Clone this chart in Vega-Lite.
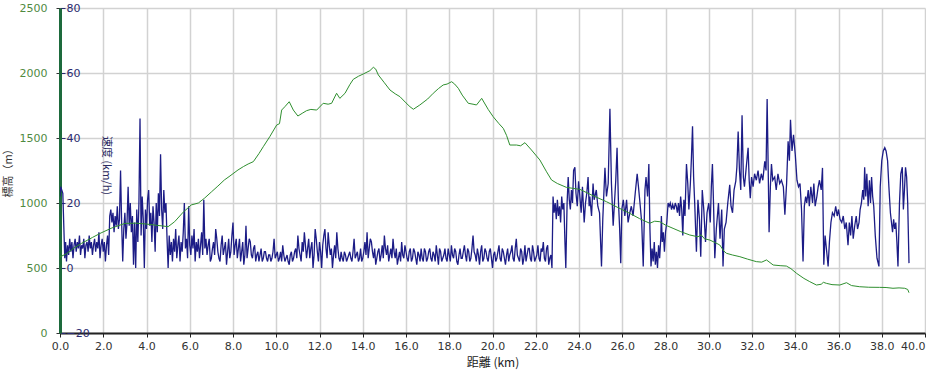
{
  "$schema": "https://vega.github.io/schema/vega-lite/v6.json",
  "autosize": {"type": "none"},
  "padding": {"left": 60, "top": 8, "right": 1, "bottom": 41},
  "width": 865,
  "height": 325,
  "background": "white",
  "config": {
    "view": {"stroke": null},
    "axis": {"labelFont": "DejaVu Sans", "labelFontSize": 11, "titleFont": "Noto Sans CJK JP", "titleFontSize": 11, "titleFontWeight": "normal", "gridColor": "#d2d2d2", "gridWidth": 1.5}
  },
  "datasets": {
    "spd": [
      {"d":0.00,"s":22},{"d":0.03,"s":25},{"d":0.08,"s":24},{"d":0.13,"s":23},{"d":0.18,"s":12},{"d":0.22,"s":3},{"d":0.26,"s":8},{"d":0.30,"s":2},{"d":0.35,"s":7},{"d":0.40,"s":4},
      {"d":0.45,"s":9},{"d":0.50,"s":5},{"d":0.55,"s":8},{"d":0.60,"s":3},{"d":0.65,"s":7},{"d":0.70,"s":9},{"d":0.75,"s":5},{"d":0.80,"s":8},{"d":0.85,"s":6},{"d":0.90,"s":10},
      {"d":0.95,"s":4},{"d":1.00,"s":7},{"d":1.05,"s":6},{"d":1.10,"s":9},{"d":1.15,"s":3},{"d":1.20,"s":7},{"d":1.25,"s":8},{"d":1.30,"s":5},{"d":1.35,"s":10},{"d":1.40,"s":6},
      {"d":1.45,"s":8},{"d":1.50,"s":4},{"d":1.55,"s":7},{"d":1.60,"s":9},{"d":1.65,"s":5},{"d":1.70,"s":8},{"d":1.75,"s":6},{"d":1.80,"s":11},{"d":1.85,"s":3},{"d":1.90,"s":7},
      {"d":1.95,"s":9},{"d":2.00,"s":5},{"d":2.05,"s":8},{"d":2.10,"s":2},{"d":2.15,"s":7},{"d":2.20,"s":10},{"d":2.25,"s":4},{"d":2.30,"s":16},{"d":2.35,"s":18},{"d":2.40,"s":14},
      {"d":2.45,"s":17},{"d":2.50,"s":11},{"d":2.55,"s":16},{"d":2.60,"s":13},{"d":2.65,"s":19},{"d":2.70,"s":12},{"d":2.75,"s":15},{"d":2.80,"s":30},{"d":2.85,"s":14},{"d":2.90,"s":2},
      {"d":2.95,"s":12},{"d":3.00,"s":17},{"d":3.05,"s":9},{"d":3.10,"s":14},{"d":3.15,"s":25},{"d":3.20,"s":13},{"d":3.25,"s":20},{"d":3.30,"s":11},{"d":3.35,"s":16},{"d":3.40,"s":1},
      {"d":3.45,"s":14},{"d":3.50,"s":0},{"d":3.55,"s":18},{"d":3.60,"s":8},{"d":3.65,"s":20},{"d":3.70,"s":46},{"d":3.75,"s":10},{"d":3.80,"s":22},{"d":3.85,"s":15},{"d":3.90,"s":0},
      {"d":3.95,"s":18},{"d":4.00,"s":12},{"d":4.05,"s":21},{"d":4.10,"s":24},{"d":4.15,"s":13},{"d":4.20,"s":17},{"d":4.25,"s":8},{"d":4.30,"s":19},{"d":4.35,"s":14},{"d":4.40,"s":5},
      {"d":4.45,"s":20},{"d":4.50,"s":11},{"d":4.55,"s":23},{"d":4.60,"s":16},{"d":4.65,"s":35},{"d":4.70,"s":18},{"d":4.75,"s":12},{"d":4.80,"s":24},{"d":4.85,"s":17},{"d":4.90,"s":20},
      {"d":4.95,"s":9},{"d":5.00,"s":0},{"d":5.05,"s":10},{"d":5.10,"s":4},{"d":5.15,"s":8},{"d":5.20,"s":2},{"d":5.25,"s":9},{"d":5.30,"s":5},{"d":5.35,"s":12},{"d":5.40,"s":3},
      {"d":5.45,"s":7},{"d":5.50,"s":10},{"d":5.55,"s":2},{"d":5.60,"s":8},{"d":5.65,"s":5},{"d":5.70,"s":11},{"d":5.75,"s":20},{"d":5.80,"s":6},{"d":5.85,"s":9},{"d":5.90,"s":3},
      {"d":5.95,"s":19},{"d":6.00,"s":7},{"d":6.05,"s":4},{"d":6.10,"s":10},{"d":6.15,"s":6},{"d":6.20,"s":12},{"d":6.25,"s":2},{"d":6.30,"s":8},{"d":6.35,"s":5},{"d":6.40,"s":9},
      {"d":6.45,"s":3},{"d":6.50,"s":7},{"d":6.55,"s":11},{"d":6.60,"s":4},{"d":6.65,"s":21},{"d":6.70,"s":6},{"d":6.75,"s":9},
      {"d":6.8,"s":4},{"d":6.9,"s":9},{"d":7.0,"s":3},{"d":7.1,"s":8},{"d":7.2,"s":12},{"d":7.3,"s":5},{"d":7.4,"s":2},{"d":7.5,"s":10},{"d":7.6,"s":6},{"d":7.7,"s":1},
      {"d":7.8,"s":9},{"d":7.9,"s":5},{"d":8.0,"s":14},{"d":8.1,"s":7},{"d":8.2,"s":3},{"d":8.3,"s":9},{"d":8.4,"s":5},{"d":8.5,"s":1},{"d":8.6,"s":13},{"d":8.7,"s":6},
      {"d":8.8,"s":8},{"d":8.9,"s":3},{"d":9.0,"s":7},{"d":9.1,"s":4},{"d":9.2,"s":2},{"d":9.3,"s":6},{"d":9.4,"s":3},{"d":9.5,"s":5},{"d":9.6,"s":2},{"d":9.7,"s":4},
      {"d":9.8,"s":3},{"d":9.9,"s":9},{"d":10.0,"s":4},{"d":10.1,"s":2},{"d":10.2,"s":5},{"d":10.3,"s":7},{"d":10.4,"s":2},{"d":10.5,"s":4},{"d":10.6,"s":1},{"d":10.7,"s":5},
      {"d":10.8,"s":3},{"d":10.9,"s":6},{"d":11.0,"s":10},{"d":11.1,"s":4},{"d":11.2,"s":8},{"d":11.3,"s":11},{"d":11.4,"s":3},{"d":11.5,"s":9},{"d":11.6,"s":6},{"d":11.7,"s":0},
      {"d":11.8,"s":12},{"d":11.9,"s":5},{"d":12.0,"s":8},{"d":12.1,"s":0},{"d":12.2,"s":10},{"d":12.25,"s":12},{"d":12.3,"s":6},{"d":12.4,"s":11},{"d":12.5,"s":4},{"d":12.6,"s":0},
      {"d":12.7,"s":7},{"d":12.8,"s":11},{"d":12.9,"s":3},{"d":13.0,"s":5},{"d":13.1,"s":2},{"d":13.2,"s":4},{"d":13.3,"s":3},{"d":13.4,"s":5},{"d":13.5,"s":2},{"d":13.6,"s":9},
      {"d":13.7,"s":4},{"d":13.8,"s":2},{"d":13.9,"s":6},{"d":14.0,"s":3},{"d":14.1,"s":8},{"d":14.2,"s":11},{"d":14.3,"s":6},{"d":14.4,"s":8},{"d":14.5,"s":3},{"d":14.6,"s":1},
      {"d":14.7,"s":5},{"d":14.8,"s":2},{"d":14.9,"s":7},{"d":15.0,"s":10},{"d":15.1,"s":4},{"d":15.2,"s":2},{"d":15.3,"s":6},{"d":15.4,"s":9},{"d":15.5,"s":3},{"d":15.6,"s":1},
      {"d":15.7,"s":5},{"d":15.8,"s":8},{"d":15.9,"s":3},{"d":16.0,"s":5},{"d":16.1,"s":2},{"d":16.2,"s":6},{"d":16.3,"s":3},{"d":16.4,"s":5},{"d":16.5,"s":1},{"d":16.6,"s":4},
      {"d":16.7,"s":6},{"d":16.8,"s":2},{"d":16.9,"s":5},{"d":17.0,"s":3},{"d":17.1,"s":6},{"d":17.2,"s":2},{"d":17.3,"s":4},{"d":17.4,"s":7},{"d":17.5,"s":1},{"d":17.6,"s":5},
      {"d":17.7,"s":3},{"d":17.8,"s":6},{"d":17.9,"s":2},{"d":18.0,"s":4},{"d":18.1,"s":7},{"d":18.2,"s":3},{"d":18.3,"s":5},{"d":18.4,"s":1},{"d":18.5,"s":6},{"d":18.6,"s":3},
      {"d":18.7,"s":7},{"d":18.8,"s":2},{"d":18.9,"s":5},{"d":19.0,"s":3},{"d":19.1,"s":10},{"d":19.2,"s":4},{"d":19.3,"s":6},{"d":19.4,"s":1},{"d":19.5,"s":7},{"d":19.6,"s":3},
      {"d":19.7,"s":5},{"d":19.8,"s":2},{"d":19.9,"s":6},{"d":20.0,"s":0},{"d":20.1,"s":5},{"d":20.2,"s":3},{"d":20.3,"s":7},{"d":20.4,"s":2},{"d":20.5,"s":5},{"d":20.6,"s":1},
      {"d":20.7,"s":6},{"d":20.8,"s":4},{"d":20.9,"s":7},{"d":21.0,"s":2},{"d":21.1,"s":9},{"d":21.2,"s":3},{"d":21.3,"s":6},{"d":21.4,"s":1},{"d":21.5,"s":7},{"d":21.6,"s":4},
      {"d":21.7,"s":6},{"d":21.8,"s":2},{"d":21.9,"s":5},{"d":22.0,"s":3},{"d":22.1,"s":7},{"d":22.2,"s":2},{"d":22.3,"s":5},{"d":22.35,"s":8},{"d":22.4,"s":3},{"d":22.5,"s":6},
      {"d":22.6,"s":1},{"d":22.7,"s":4},
      {"d":6.85,"s":7},{"d":6.95,"s":2},{"d":7.05,"s":6},{"d":7.15,"s":4},{"d":7.25,"s":9},{"d":7.35,"s":3},{"d":7.45,"s":7},{"d":7.55,"s":4},{"d":7.65,"s":8},{"d":7.75,"s":5},
      {"d":7.85,"s":3},{"d":7.95,"s":10},{"d":8.05,"s":4},{"d":8.15,"s":9},{"d":8.25,"s":6},{"d":8.35,"s":2},{"d":8.45,"s":8},{"d":8.55,"s":4},{"d":8.65,"s":3},{"d":8.75,"s":9},
      {"d":8.85,"s":4},{"d":8.95,"s":6},{"d":9.05,"s":2},{"d":9.15,"s":5},{"d":9.25,"s":4},{"d":9.35,"s":2},{"d":9.45,"s":5},{"d":9.55,"s":3},{"d":9.65,"s":4},{"d":9.75,"s":2},
      {"d":9.85,"s":5},{"d":9.95,"s":3},{"d":10.05,"s":5},{"d":10.15,"s":3},{"d":10.25,"s":2},{"d":10.35,"s":4},{"d":10.45,"s":3},{"d":10.55,"s":2},{"d":10.65,"s":4},{"d":10.75,"s":2},
      {"d":10.85,"s":5},{"d":10.95,"s":3},{"d":11.05,"s":6},{"d":11.15,"s":2},{"d":11.25,"s":5},{"d":11.35,"s":7},{"d":11.45,"s":6},{"d":11.55,"s":3},{"d":11.65,"s":8},{"d":11.75,"s":4},
      {"d":11.85,"s":9},{"d":11.95,"s":2},{"d":12.05,"s":5},{"d":12.15,"s":7},{"d":12.35,"s":3},{"d":12.45,"s":7},{"d":12.55,"s":6},{"d":12.65,"s":4},{"d":12.75,"s":3},{"d":12.85,"s":6},
      {"d":12.95,"s":2},{"d":13.05,"s":3},{"d":13.15,"s":5},{"d":13.25,"s":2},{"d":13.35,"s":4},{"d":13.45,"s":3},{"d":13.55,"s":5},{"d":13.65,"s":3},{"d":13.75,"s":5},{"d":13.85,"s":3},
      {"d":13.95,"s":2},{"d":14.05,"s":5},{"d":14.15,"s":4},{"d":14.25,"s":3},{"d":14.35,"s":9},{"d":14.45,"s":5},{"d":14.55,"s":6},{"d":14.65,"s":3},{"d":14.75,"s":6},{"d":14.85,"s":4},
      {"d":14.95,"s":3},{"d":15.05,"s":6},{"d":15.15,"s":7},{"d":15.25,"s":4},{"d":15.35,"s":3},{"d":15.45,"s":5},{"d":15.55,"s":6},{"d":15.65,"s":3},{"d":15.75,"s":2},{"d":15.85,"s":4},
      {"d":15.95,"s":7},{"d":16.05,"s":3},{"d":16.15,"s":5},{"d":16.25,"s":2},{"d":16.35,"s":6},{"d":16.45,"s":3},{"d":16.55,"s":5},{"d":16.65,"s":2},{"d":16.75,"s":3},{"d":16.85,"s":6},
      {"d":16.95,"s":2},{"d":17.05,"s":5},{"d":17.15,"s":3},{"d":17.25,"s":5},{"d":17.35,"s":2},{"d":17.45,"s":4},{"d":17.55,"s":6},{"d":17.65,"s":2},{"d":17.75,"s":4},{"d":17.85,"s":3},
      {"d":17.95,"s":6},{"d":18.05,"s":2},{"d":18.15,"s":4},{"d":18.25,"s":6},{"d":18.35,"s":2},{"d":18.45,"s":4},{"d":18.55,"s":3},{"d":18.65,"s":5},{"d":18.75,"s":4},{"d":18.85,"s":6},
      {"d":18.95,"s":2},{"d":19.05,"s":6},{"d":19.15,"s":5},{"d":19.25,"s":2},{"d":19.35,"s":4},{"d":19.45,"s":5},{"d":19.55,"s":2},{"d":19.65,"s":6},{"d":19.75,"s":3},{"d":19.85,"s":5},
      {"d":19.95,"s":3},{"d":20.05,"s":4},{"d":20.15,"s":2},{"d":20.25,"s":5},{"d":20.35,"s":3},{"d":20.45,"s":6},{"d":20.55,"s":3},{"d":20.65,"s":4},{"d":20.75,"s":2},{"d":20.85,"s":5},
      {"d":20.95,"s":3},{"d":21.05,"s":6},{"d":21.15,"s":4},{"d":21.25,"s":2},{"d":21.35,"s":5},{"d":21.45,"s":3},{"d":21.55,"s":2},{"d":21.65,"s":6},{"d":21.75,"s":3},{"d":21.85,"s":7},
      {"d":21.95,"s":2},{"d":22.05,"s":4},{"d":22.15,"s":3},{"d":22.25,"s":6},{"d":22.45,"s":2},{"d":22.55,"s":7},{"d":22.65,"s":3},
      {"d":22.75,"s":0},{"d":22.8,"s":22},{"d":22.85,"s":17},{"d":22.9,"s":20},{"d":22.95,"s":15},{"d":23.0,"s":21},{"d":23.05,"s":16},{"d":23.1,"s":19},
      {"d":23.15,"s":14},{"d":23.2,"s":22},{"d":23.25,"s":18},{"d":23.3,"s":20},{"d":23.35,"s":8},{"d":23.39,"s":0},{"d":23.45,"s":20},{"d":23.5,"s":28},{"d":23.55,"s":21},{"d":23.6,"s":18},
      {"d":23.65,"s":24},{"d":23.7,"s":20},{"d":23.75,"s":30},{"d":23.81,"s":31},{"d":23.86,"s":23},{"d":23.92,"s":19},{"d":23.98,"s":26.7},{"d":24.04,"s":22},{"d":24.1,"s":17},{"d":24.16,"s":25},
      {"d":24.24,"s":14},{"d":24.3,"s":20},{"d":24.36,"s":23},{"d":24.42,"s":28},{"d":24.47,"s":19},{"d":24.5,"s":22},{"d":24.58,"s":16},{"d":24.65,"s":26},{"d":24.7,"s":21},{"d":24.8,"s":24},
      {"d":24.87,"s":19},{"d":24.95,"s":17},{"d":25.04,"s":0.5},{"d":25.1,"s":15},{"d":25.2,"s":30.8},{"d":25.27,"s":22},{"d":25.35,"s":26},{"d":25.43,"s":49},{"d":25.5,"s":26},{"d":25.58,"s":13},
      {"d":25.64,"s":20},{"d":25.7,"s":27},{"d":25.76,"s":37},{"d":25.82,"s":21},{"d":25.88,"s":12},{"d":25.93,"s":1.5},{"d":25.98,"s":18},{"d":26.05,"s":21},{"d":26.12,"s":16},{"d":26.2,"s":21},
      {"d":26.27,"s":14},{"d":26.35,"s":17},{"d":26.42,"s":19},{"d":26.5,"s":16},{"d":26.6,"s":23},{"d":26.69,"s":29},{"d":26.75,"s":25},{"d":26.82,"s":20},{"d":26.9,"s":14},{"d":26.97,"s":0.5},
      {"d":27.05,"s":24},{"d":27.1,"s":28},{"d":27.17,"s":22},{"d":27.23,"s":32},{"d":27.28,"s":12},{"d":27.33,"s":0.5},{"d":27.38,"s":6},{"d":27.43,"s":2},{"d":27.48,"s":8},{"d":27.53,"s":1},
      {"d":27.58,"s":5},{"d":27.63,"s":0},{"d":27.68,"s":7},{"d":27.73,"s":3},{"d":27.78,"s":9},{"d":27.81,"s":16},{"d":27.85,"s":8},{"d":27.9,"s":11},{"d":27.95,"s":5},{"d":28.0,"s":11},
      {"d":28.06,"s":14},{"d":28.12,"s":20},{"d":28.17,"s":19},{"d":28.22,"s":20},{"d":28.28,"s":18},{"d":28.33,"s":19.5},{"d":28.4,"s":18},{"d":28.45,"s":20},{"d":28.5,"s":19},{"d":28.55,"s":17},
      {"d":28.6,"s":20},{"d":28.65,"s":16},{"d":28.7,"s":22},{"d":28.75,"s":18},{"d":28.8,"s":10},{"d":28.85,"s":21},{"d":28.9,"s":16},{"d":28.97,"s":32},{"d":29.03,"s":26},{"d":29.08,"s":18},
      {"d":29.15,"s":26},{"d":29.2,"s":34},{"d":29.25,"s":43.6},{"d":29.3,"s":28},{"d":29.35,"s":20},{"d":29.43,"s":5},{"d":29.5,"s":21},{"d":29.57,"s":15},{"d":29.63,"s":3.5},{"d":29.7,"s":24},
      {"d":29.77,"s":18},{"d":29.85,"s":8},{"d":29.92,"s":17},{"d":30.0,"s":20},{"d":30.07,"s":14},{"d":30.12,"s":25},{"d":30.17,"s":32},{"d":30.22,"s":20},{"d":30.28,"s":3},{"d":30.35,"s":12},
      {"d":30.4,"s":16},{"d":30.45,"s":20},{"d":30.52,"s":9},{"d":30.6,"s":18},{"d":30.66,"s":0.5},{"d":30.72,"s":12},{"d":30.8,"s":14},{"d":30.88,"s":20},{"d":30.97,"s":25.6},{"d":31.03,"s":19},
      {"d":31.1,"s":17},{"d":31.17,"s":24},{"d":31.25,"s":26.7},{"d":31.3,"s":31},{"d":31.36,"s":42},{"d":31.42,"s":30},{"d":31.48,"s":24},{"d":31.54,"s":47},{"d":31.6,"s":28},{"d":31.65,"s":25},
      {"d":31.72,"s":30},{"d":31.82,"s":37},{"d":31.87,"s":27},{"d":31.92,"s":21.5},{"d":31.98,"s":28},{"d":32.05,"s":25},{"d":32.12,"s":29},{"d":32.2,"s":27},{"d":32.28,"s":30},{"d":32.35,"s":26},
      {"d":32.43,"s":29},{"d":32.5,"s":27},{"d":32.59,"s":32.8},{"d":32.65,"s":30},{"d":32.7,"s":52},{"d":32.75,"s":30},{"d":32.79,"s":11},{"d":32.85,"s":25},{"d":32.9,"s":32},{"d":32.96,"s":27},
      {"d":33.05,"s":28},{"d":33.12,"s":24},{"d":33.2,"s":29},{"d":33.28,"s":26},{"d":33.36,"s":27},{"d":33.45,"s":25},{"d":33.52,"s":16.4},{"d":33.6,"s":26},{"d":33.67,"s":39},{"d":33.73,"s":33},
      {"d":33.78,"s":45.6},{"d":33.85,"s":36},{"d":33.92,"s":41},{"d":34.0,"s":35},{"d":34.08,"s":27},{"d":34.15,"s":25},{"d":34.22,"s":26},{"d":34.29,"s":18},{"d":34.36,"s":2},{"d":34.42,"s":19},
      {"d":34.48,"s":22},{"d":34.53,"s":20},{"d":34.6,"s":24},{"d":34.65,"s":19},{"d":34.72,"s":25},{"d":34.8,"s":20},{"d":34.86,"s":26},{"d":34.92,"s":19},{"d":35.0,"s":22},{"d":35.06,"s":25},
      {"d":35.12,"s":27},{"d":35.2,"s":24},{"d":35.26,"s":30.8},{"d":35.32,"s":1},{"d":35.38,"s":10},{"d":35.44,"s":6},{"d":35.52,"s":0.5},{"d":35.58,"s":8},{"d":35.65,"s":14},{"d":35.72,"s":17},
      {"d":35.8,"s":16},{"d":35.87,"s":19},{"d":35.94,"s":16},{"d":36.0,"s":18},{"d":36.07,"s":15},{"d":36.15,"s":14},{"d":36.22,"s":16},{"d":36.29,"s":12},{"d":36.36,"s":14},{"d":36.44,"s":7},
      {"d":36.5,"s":14},{"d":36.56,"s":10},{"d":36.62,"s":16},{"d":36.68,"s":9},{"d":36.75,"s":13},{"d":36.82,"s":16},{"d":36.88,"s":12},{"d":36.95,"s":14},{"d":37.0,"s":18},{"d":37.06,"s":20},
      {"d":37.12,"s":24},{"d":37.17,"s":21},{"d":37.21,"s":31},{"d":37.26,"s":22},{"d":37.31,"s":29},{"d":37.37,"s":19},{"d":37.43,"s":27},{"d":37.48,"s":20},{"d":37.53,"s":28},{"d":37.58,"s":22},
      {"d":37.63,"s":19},{"d":37.7,"s":10},{"d":37.78,"s":3},{"d":37.87,"s":0.5},{"d":37.93,"s":25},{"d":38.0,"s":33},{"d":38.07,"s":36},{"d":38.14,"s":37},{"d":38.2,"s":36},{"d":38.27,"s":33},
      {"d":38.33,"s":25},{"d":38.4,"s":17},{"d":38.45,"s":14},{"d":38.5,"s":11},{"d":38.55,"s":15},{"d":38.6,"s":12},{"d":38.65,"s":14},{"d":38.7,"s":8},{"d":38.75,"s":0.5},{"d":38.82,"s":20},
      {"d":38.88,"s":29},{"d":38.95,"s":31},{"d":39.0,"s":18},{"d":39.05,"s":24},{"d":39.1,"s":31},{"d":39.15,"s":28},{"d":39.2,"s":20},{"d":39.26,"s":1.5}
    ],
    "elv": [
      {"d":0.0,"e":585},{"d":0.3,"e":610},{"d":0.7,"e":660},{"d":1.0,"e":690},{"d":1.5,"e":735},{"d":1.9,"e":770},{"d":2.4,"e":808},{"d":3.0,"e":843},{"d":3.5,"e":845},{"d":4.0,"e":838},
      {"d":4.4,"e":830},{"d":5.0,"e":818},{"d":5.3,"e":856},{"d":5.7,"e":930},{"d":6.07,"e":985},{"d":6.4,"e":1000},{"d":6.69,"e":1038},{"d":7.0,"e":1085},{"d":7.3,"e":1130},{"d":7.6,"e":1177},
      {"d":7.86,"e":1208},{"d":8.23,"e":1254},{"d":8.48,"e":1280},{"d":8.7,"e":1300},{"d":8.94,"e":1318},{"d":9.2,"e":1380},{"d":9.4,"e":1433},{"d":9.7,"e":1510},{"d":10.02,"e":1600},{"d":10.15,"e":1610},
      {"d":10.25,"e":1715},{"d":10.4,"e":1741},{"d":10.6,"e":1779},{"d":10.79,"e":1715},{"d":11.0,"e":1669},{"d":11.2,"e":1690},{"d":11.4,"e":1710},{"d":11.6,"e":1720},{"d":11.87,"e":1715},{"d":12.17,"e":1767},
      {"d":12.4,"e":1760},{"d":12.56,"e":1767},{"d":12.79,"e":1844},{"d":12.94,"e":1805},{"d":13.18,"e":1844},{"d":13.4,"e":1910},{"d":13.56,"e":1951},{"d":13.8,"e":1975},{"d":14.02,"e":1992},{"d":14.33,"e":2018},
      {"d":14.49,"e":2044},{"d":14.6,"e":2030},{"d":14.72,"e":1985},{"d":15.0,"e":1925},{"d":15.26,"e":1869},{"d":15.5,"e":1840},{"d":15.72,"e":1818},{"d":16.0,"e":1770},{"d":16.18,"e":1741},{"d":16.34,"e":1721},
      {"d":16.64,"e":1754},{"d":17.0,"e":1800},{"d":17.26,"e":1844},{"d":17.5,"e":1880},{"d":17.72,"e":1908},{"d":17.9,"e":1915},{"d":18.11,"e":1933},{"d":18.25,"e":1915},{"d":18.42,"e":1882},{"d":18.6,"e":1830},
      {"d":18.88,"e":1767},{"d":19.1,"e":1760},{"d":19.26,"e":1754},{"d":19.5,"e":1805},{"d":19.8,"e":1720},{"d":20.03,"e":1664},{"d":20.3,"e":1610},{"d":20.5,"e":1574},{"d":20.65,"e":1520},{"d":20.8,"e":1446},
      {"d":21.11,"e":1446},{"d":21.3,"e":1440},{"d":21.5,"e":1464},{"d":21.8,"e":1408},{"d":22.19,"e":1331},{"d":22.5,"e":1240},{"d":22.73,"e":1177},{"d":23.0,"e":1150},{"d":23.42,"e":1120},{"d":24.04,"e":1105},
      {"d":24.6,"e":1060},{"d":25.27,"e":1010},{"d":25.8,"e":965},{"d":26.35,"e":920},{"d":26.8,"e":880},{"d":27.27,"e":844},{"d":27.5,"e":860},{"d":27.74,"e":856},{"d":28.0,"e":830},{"d":28.35,"e":805},
      {"d":28.7,"e":780},{"d":29.12,"e":754},{"d":29.5,"e":740},{"d":29.65,"e":755},{"d":29.8,"e":725},{"d":30.05,"e":715},{"d":30.3,"e":695},{"d":30.51,"e":677},{"d":30.7,"e":630},{"d":30.82,"e":613},
      {"d":31.1,"e":600},{"d":31.44,"e":587},{"d":31.8,"e":568},{"d":32.2,"e":549},{"d":32.45,"e":545},{"d":32.67,"e":562},{"d":32.98,"e":523},{"d":33.3,"e":518},{"d":33.59,"e":515},{"d":33.8,"e":495},
      {"d":34.06,"e":459},{"d":34.4,"e":420},{"d":34.67,"e":395},{"d":34.98,"e":369},{"d":35.2,"e":375},{"d":35.3,"e":390},{"d":35.44,"e":382},{"d":35.7,"e":372},{"d":36.06,"e":369},{"d":36.37,"e":387},
      {"d":36.6,"e":365},{"d":36.98,"e":356},{"d":37.4,"e":352},{"d":37.9,"e":351},{"d":38.2,"e":350},{"d":38.52,"e":344},{"d":38.8,"e":347},{"d":39.06,"e":344},{"d":39.2,"e":335},{"d":39.26,"e":310}
    ]
  },
  "layer": [
    {
      "data": {"name": "spd"},
      "mark": {"type": "line", "color": "#1c1c86", "strokeWidth": 1.3, "clip": true},
      "encoding": {
        "x": {"field": "d", "type": "quantitative", "scale": {"domain": [0, 40], "nice": false, "zero": false},
          "axis": {"title": "距離 (km)", "values": [0,2,4,6,8,10,12,14,16,18,20,22,24,26,28,30,32,34,36,38,40], "format": ".1f", "grid": true,
            "domainColor": "#222222", "domainWidth": 2, "tickColor": "#222222", "tickSize": 4, "labelColor": "#333333", "labelPadding": 3, "labelOverlap": false, "labelBound": false,
            "labelAlign": {"condition": {"test": "datum.value >= 40", "value": "right"}, "value": "center"},
            "titleColor": "#222222", "titleFontSize": 12, "titlePadding": 6}},
        "y": {"field": "s", "type": "quantitative", "scale": {"domain": [-20, 80], "nice": false, "zero": false},
          "axis": {"orient": "right", "offset": -865, "title": "速度 (km/h)", "values": [-20, 0, 20, 40, 60, 80], "format": "d", "grid": false, "domain": false,
            "tickColor": "#2a2a70", "tickSize": 5, "labelColor": "#2a2a70", "labelPadding": 1, "labelAlign": "left",
            "titleColor": "#2a2a60", "titleAngle": 90, "titleX": 45, "titleY": 157, "titleAlign": "center", "titleBaseline": "middle"}}
      }
    },
    {
      "data": {"name": "elv"},
      "mark": {"type": "line", "color": "#2f8f2f", "strokeWidth": 1, "clip": true},
      "encoding": {
        "x": {"field": "d", "type": "quantitative", "scale": {"domain": [0, 40], "nice": false, "zero": false},
          "axis": {"title": "距離 (km)", "values": [0,2,4,6,8,10,12,14,16,18,20,22,24,26,28,30,32,34,36,38,40], "format": ".1f", "grid": true,
            "domainColor": "#222222", "domainWidth": 2, "tickColor": "#222222", "tickSize": 4, "labelColor": "#333333", "labelPadding": 3, "labelOverlap": false, "labelBound": false,
            "labelAlign": {"condition": {"test": "datum.value >= 40", "value": "right"}, "value": "center"},
            "titleColor": "#222222", "titleFontSize": 12, "titlePadding": 6}},
        "y": {"field": "e", "type": "quantitative", "scale": {"domain": [0, 2500], "nice": false, "zero": true},
          "axis": {"orient": "left", "title": "標高（m）", "values": [0, 500, 1000, 1500, 2000, 2500], "format": "d", "grid": true,
            "domainColor": "#1d6a3c", "domainWidth": 3, "tickColor": "#333333", "tickSize": 4, "labelColor": "#4f8a3f", "labelPadding": 9,
            "titleColor": "#333333", "titleAngle": -90, "titleX": -52, "titleY": 162, "titleAlign": "center", "titleBaseline": "middle"}}
      }
    }
  ],
  "resolve": {"scale": {"y": "independent"}, "axis": {"y": "independent"}}
}
